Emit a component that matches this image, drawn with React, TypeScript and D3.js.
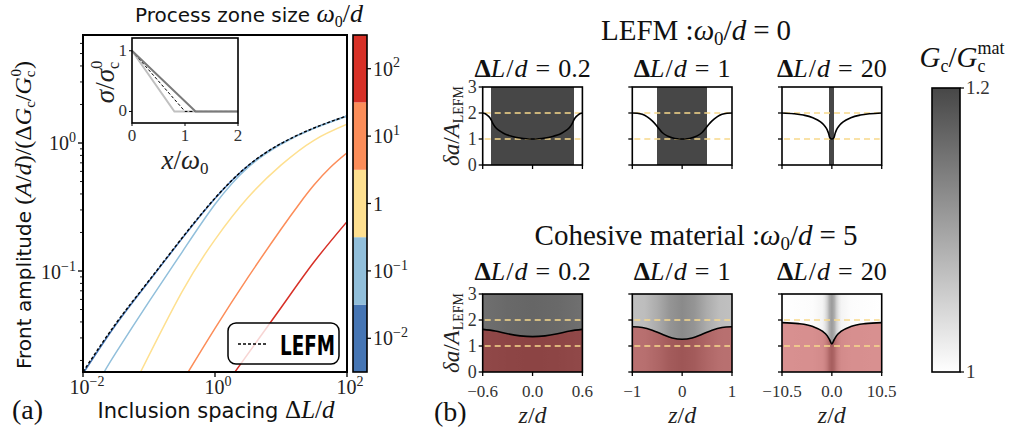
import React from "react";
import * as d3 from "d3";

// ---------- Panel (a) data ----------
const omegaLabels = ["10^-2", "10^-1", "1", "10^1", "10^2"];
const omegaColors = ["#4575b4", "#91bfdb", "#fee090", "#fc8d59", "#d73027"];

const lefmDL = [0.01, 0.0316, 0.1, 0.316, 1, 3.16, 10, 31.6, 100];
const lefmA = [0.0163, 0.039, 0.0843, 0.181, 0.371, 0.665, 0.99, 1.31, 1.63];

const w001DL = [0.01, 0.0316, 0.1, 0.316, 1, 3.16, 10, 31.6, 100];
const w001A = [0.0158, 0.0382, 0.0832, 0.179, 0.369, 0.663, 0.988, 1.308, 1.628];
const w01DL = [0.021, 0.0316, 0.1, 0.316, 1, 3.16, 10, 31.6, 100];
const w01A = [0.0163, 0.023, 0.0577, 0.14, 0.332, 0.644, 0.977, 1.3, 1.62];
const w1DL = [0.0748, 0.316, 1, 3.16, 10, 31.6, 100];
const w1A = [0.0163, 0.0687, 0.176, 0.375, 0.671, 1.05, 1.4];
const w10DL = [0.394, 1, 3.16, 10, 19.4, 31.6, 56.2, 100];
const w10A = [0.0163, 0.0356, 0.0891, 0.212, 0.34, 0.469, 0.646, 0.838];
const w100DL = [2.01, 10, 31.6, 100];
const w100A = [0.0163, 0.0516, 0.1175, 0.243];

const seriesDL = [w001DL, w01DL, w1DL, w10DL, w100DL];
const seriesA = [w001A, w01A, w1A, w10A, w100A];

// inset: cohesive laws
const insetLightX = [0, 0.8, 2];
const insetLightY = [1, 0, 0];
const insetDarkX = [0, 1.2, 2];
const insetDarkY = [1, 0, 0];
const insetDashX = [0, 1, 2];
const insetDashY = [1, 0, 0];

// ---------- Panel (b) data ----------
const panelDL = ["0.2", "1", "20"];
const panelZmax = [0.6, 1, 10.5];
const panelTickLabels = [["−0.6", "0.0", "0.6"], ["−1", "0", "1"], ["−10.5", "0.0", "10.5"]];

const lefmGcZ = [
  [-0.6, -0.5, -0.5, 0.5, 0.5, 0.6],
  [-1, -0.5, -0.5, 0.5, 0.5, 1],
  [-10.5, -0.5, -0.5, 0.5, 0.5, 10.5],
];
const lefmGc = [
  [1, 1, 1.2, 1.2, 1, 1],
  [1, 1, 1.2, 1.2, 1, 1],
  [1, 1, 1.2, 1.2, 1, 1],
];
const lefmFrontZ = [
  [-0.6, -0.575, -0.55, -0.525, -0.5, -0.475, -0.45, -0.4, -0.35, -0.3, -0.23, -0.15, -0.075, 0, 0.075, 0.15, 0.23, 0.3, 0.35, 0.4, 0.45, 0.475, 0.5, 0.525, 0.55, 0.575, 0.6],
  [-1, -0.9, -0.8, -0.7, -0.6, -0.5, -0.4, -0.3, -0.2, -0.1, 0, 0.1, 0.2, 0.3, 0.4, 0.5, 0.6, 0.7, 0.8, 0.9, 1],
  [-10.5, -8, -6, -4, -3, -2, -1.5, -1, -0.7, -0.5, -0.25, 0, 0.25, 0.5, 0.7, 1, 1.5, 2, 3, 4, 6, 8, 10.5],
];
const lefmFront = [
  [2.0, 1.98, 1.93, 1.86, 1.75, 1.58, 1.46, 1.32, 1.22, 1.15, 1.09, 1.04, 1.01, 1.0, 1.01, 1.04, 1.09, 1.15, 1.22, 1.32, 1.46, 1.58, 1.75, 1.86, 1.93, 1.98, 2.0],
  [2.0, 1.99, 1.95, 1.85, 1.7, 1.48, 1.25, 1.12, 1.05, 1.01, 1.0, 1.01, 1.05, 1.12, 1.25, 1.48, 1.7, 1.85, 1.95, 1.99, 2.0],
  [2.0, 1.97, 1.92, 1.82, 1.73, 1.6, 1.5, 1.36, 1.22, 1.08, 1.02, 1.0, 1.02, 1.08, 1.22, 1.36, 1.5, 1.6, 1.73, 1.82, 1.92, 1.97, 2.0],
];

const cohGcZ = [
  [-0.6, -0.3, 0, 0.3, 0.6],
  [-1, -0.75, -0.5, -0.25, 0, 0.25, 0.5, 0.75, 1],
  [-10.5, -4, -2, -1.5, -1, -0.5, 0, 0.5, 1, 1.5, 2, 4, 10.5],
];
const cohGc = [
  [1.155, 1.163, 1.166, 1.163, 1.155],
  [1.068, 1.072, 1.09, 1.115, 1.127, 1.115, 1.09, 1.072, 1.068],
  [1.0, 1.003, 1.012, 1.025, 1.05, 1.09, 1.11, 1.09, 1.05, 1.025, 1.012, 1.003, 1.0],
];
const cohFrontZ = [
  [-0.6, -0.45, -0.3, -0.15, 0, 0.15, 0.3, 0.45, 0.6],
  [-1, -0.8, -0.6, -0.4, -0.2, 0, 0.2, 0.4, 0.6, 0.8, 1],
  [-10.5, -7, -4, -2, -1, -0.5, 0, 0.5, 1, 2, 4, 7, 10.5],
];
const cohFront = [
  [1.64, 1.58, 1.47, 1.39, 1.36, 1.39, 1.47, 1.58, 1.64],
  [1.74, 1.71, 1.61, 1.45, 1.31, 1.26, 1.31, 1.45, 1.61, 1.71, 1.74],
  [1.9, 1.86, 1.75, 1.57, 1.4, 1.25, 1.08, 1.25, 1.4, 1.57, 1.75, 1.86, 1.9],
];

const refLevels = [1, 2];
const yTicksB = [0, 1, 2, 3];

const SERIF = "'Liberation Serif', 'DejaVu Serif', serif";
const SANS = "'DejaVu Sans', sans-serif";

const gcColor = d3.scaleLinear<string>().domain([1, 1.2]).range(["#ffffff", "#474747"]);

function Sup({ base, exp, x, y, anchor, size }: any) {
  return (
    <text x={x} y={y} textAnchor={anchor} fontFamily={SERIF} fontSize={size} fill="#222">
      {base}
      {exp !== null && (
        <tspan dy={-size * 0.42} fontSize={size * 0.7}>
          {exp}
        </tspan>
      )}
    </text>
  );
}

function labelParts(l: string): [string, string | null] {
  if (l.startsWith("10^")) return ["10", l.slice(3).replace("-", "−")];
  return [l, null];
}

function PanelB({ row, i, x0, y0, w, h }: any) {
  const zmax = panelZmax[i];
  const xs = d3.scaleLinear().domain([-zmax, zmax]).range([x0, x0 + w]);
  const ys = d3.scaleLinear().domain([0, 3]).range([y0 + h, y0]);
  const gz = row === 0 ? lefmGcZ[i] : cohGcZ[i];
  const gv = row === 0 ? lefmGc[i] : cohGc[i];
  const fz = row === 0 ? lefmFrontZ[i] : cohFrontZ[i];
  const fv = row === 0 ? lefmFront[i] : cohFront[i];
  const pts = fz.map((z, k) => [z, fv[k]] as [number, number]);
  const line = d3.line<[number, number]>().x((d) => xs(d[0])).y((d) => ys(d[1])).curve(d3.curveMonotoneX);
  const area = d3
    .area<[number, number]>()
    .x((d) => xs(d[0]))
    .y0(ys(0))
    .y1((d) => ys(d[1]))
    .curve(d3.curveMonotoneX);
  const gid = `g${row}${i}`;
  const cid = `c${row}${i}`;
  return (
    <g>
      <defs>
        <linearGradient id={gid} gradientUnits="userSpaceOnUse" x1={x0} x2={x0 + w} y1={0} y2={0}>
          {gz.map((z, k) => (
            <stop key={k} offset={(z + zmax) / (2 * zmax)} stopColor={gcColor(gv[k])} />
          ))}
        </linearGradient>
        <clipPath id={cid}>
          <rect x={x0} y={y0} width={w} height={h} />
        </clipPath>
      </defs>
      <rect x={x0} y={y0} width={w} height={h} fill={`url(#${gid})`} />
      <g clipPath={`url(#${cid})`}>
        {row === 1 && <path d={area(pts) || ""} fill="#b22222" fillOpacity={0.5} />}
        {refLevels.map((v) => (
          <line key={v} x1={x0 + 2} x2={x0 + w - 2} y1={ys(v)} y2={ys(v)} stroke="#f7d98c" strokeWidth={1.5} strokeDasharray="6,4" />
        ))}
        <path d={line(pts) || ""} fill="none" stroke="#000" strokeWidth={1.6} />
      </g>
      <rect x={x0} y={y0} width={w} height={h} fill="none" stroke="#000" strokeWidth={1.6} />
      {yTicksB.map((t) => (
        <line key={t} x1={x0 - 4} x2={x0} y1={ys(t)} y2={ys(t)} stroke="#000" strokeWidth={1.3} />
      ))}
      {i === 0 &&
        yTicksB.map((t) => (
          <text key={t} x={x0 - 6} y={ys(t) + 5.5} textAnchor="end" fontFamily={SERIF} fontSize={18} fill="#333">
            {t}
          </text>
        ))}
      {[-zmax, 0, zmax].map((t, k) => (
        <g key={k}>
          <line x1={xs(t)} x2={xs(t)} y1={y0 + h} y2={y0 + h + 4} stroke="#000" strokeWidth={1.3} />
          {row === 1 && (
            <text x={xs(t)} y={396.5} textAnchor="middle" fontFamily={SERIF} fontSize={17} fill="#333">
              {panelTickLabels[i][k]}
            </text>
          )}
        </g>
      ))}
      <text x={x0 + w / 2} y={row === 0 ? 77 : 280} textAnchor="middle" fontFamily={SERIF} fontSize={26} fill="#111">
        <tspan fontWeight="bold">Δ</tspan>
        <tspan fontStyle="italic">L</tspan>
        <tspan dx={1}>/</tspan>
        <tspan fontStyle="italic" dx={1}>d</tspan>
        <tspan dx={8}>=</tspan>
        <tspan dx={8}>{panelDL[i]}</tspan>
      </text>
      {row === 1 && (
        <text x={x0 + w / 2} y={423} textAnchor="middle" fontFamily={SERIF} fontSize={24} fontStyle="italic" fill="#222">
          z<tspan fontStyle="normal">/</tspan>d
        </text>
      )}
    </g>
  );
}

export default function App() {
  const xA = d3.scaleLog().domain([0.01, 100]).range([83, 347]);
  const yA = d3.scaleLog().domain([0.01625, 6.98]).range([372, 35]);
  const lineA = d3
    .line<[number, number]>()
    .x((d) => xA(d[0]))
    .y((d) => yA(d[1]))
    .curve(d3.curveNatural);

  const minorY: number[] = [];
  [0.01, 0.1, 1].forEach((dec) => {
    for (let m = 2; m <= 9; m++) {
      const v = m * dec;
      if (v > 0.01625 && v < 6.98) minorY.push(v);
    }
  });

  // inset
  const xi = d3.scaleLinear().domain([0, 2]).range([132, 238]);
  const yi = d3.scaleLinear().domain([-0.19, 1.21]).range([123, 38]);
  const lineI = d3.line<[number, number]>().x((d) => xi(d[0])).y((d) => yi(d[1]));
  const zip = (a: number[], b: number[]) => a.map((v, k) => [v, b[k]] as [number, number]);

  // colorbar (a)
  const cbY = d3.scaleBand<number>().domain([4, 3, 2, 1, 0]).range([35, 372]).paddingInner(0);

  // (b) layout
  const bx = [482.7, 632.3, 782];
  const bw = 99.7;
  const by = [87, 294];
  const bh = 78;

  const gcBar = d3.scaleLinear().domain([1, 1.2]).range([372, 88]);

  return (
    <svg width={1019} height={434} style={{ position: "absolute", left: 0, top: 0, background: "#fff" }}>
      {/* ================= Panel (a) ================= */}
      <defs>
        <clipPath id="clipA">
          <rect x={83} y={35} width={264} height={337} />
        </clipPath>
      </defs>
      <g clipPath="url(#clipA)">
        {seriesDL.map((dl, k) => (
          <path key={k} d={lineA(zip(dl, seriesA[k])) || ""} fill="none" stroke={omegaColors[k]} strokeWidth={1.5} />
        ))}
        <path d={lineA(zip(lefmDL, lefmA)) || ""} fill="none" stroke="#000" strokeWidth={1.4} strokeDasharray="3,2" />
      </g>
      {/* legend */}
      <rect x={228} y={323} width={111} height={41} rx={8} fill="#fff" fillOpacity={0.8} stroke="#000" strokeWidth={1.5} />
      <line x1={238} x2={268} y1={344} y2={344} stroke="#000" strokeWidth={1.5} strokeDasharray="3,2" />
      <text x={280} y={355} fontFamily={SANS} fontWeight="bold" fontStretch="condensed" fontSize={27} textLength={55} lengthAdjust="spacingAndGlyphs" fill="#000">
        LEFM
      </text>
      {/* inset */}
      <rect x={132} y={38} width={106} height={85} fill="#fff" />
      <path d={lineI(zip(insetLightX, insetLightY)) || ""} fill="none" stroke="#c0c0c0" strokeWidth={2} />
      <path d={lineI(zip(insetDashX, insetDashY)) || ""} fill="none" stroke="#000" strokeWidth={1} strokeDasharray="3,2" />
      <path d={lineI(zip(insetDarkX, insetDarkY)) || ""} fill="none" stroke="#7a7a7a" strokeWidth={2} />
      <rect x={132} y={38} width={106} height={85} fill="none" stroke="#000" strokeWidth={1.6} />
      {[0, 1, 2].map((t) => (
        <g key={t}>
          <line x1={xi(t)} x2={xi(t)} y1={123} y2={126} stroke="#000" />
          <text x={xi(t)} y={141} textAnchor="middle" fontFamily={SERIF} fontSize={17} fill="#333">
            {t}
          </text>
        </g>
      ))}
      {[0, 1].map((t) => (
        <g key={t}>
          <line x1={129} x2={132} y1={yi(t)} y2={yi(t)} stroke="#000" />
          <text x={127} y={yi(t) + 5} textAnchor="end" fontFamily={SERIF} fontSize={17} fill="#333">
            {t}
          </text>
        </g>
      ))}
      <text x={185} y={169} textAnchor="middle" fontFamily={SERIF} fontSize={27} fontStyle="italic" fill="#222">
        x<tspan fontStyle="normal">/</tspan>ω<tspan dy={5} fontSize={17} fontStyle="normal">0</tspan>
      </text>
      <text transform="translate(114,82) rotate(-90)" textAnchor="middle" fontFamily={SERIF} fontSize={27} fontStyle="italic" fill="#222">
        σ<tspan fontStyle="normal">/</tspan>σ
        <tspan dy={5} fontSize={16} fontStyle="normal">c</tspan>
        <tspan dx={-7} dy={-17} fontSize={16} fontStyle="normal">0</tspan>
      </text>

      {/* axes frame */}
      <rect x={83} y={35} width={264} height={337} fill="none" stroke="#000" strokeWidth={2} />
      {[0.1, 1].map((t) => (
        <line key={t} x1={78} x2={83} y1={yA(t)} y2={yA(t)} stroke="#000" strokeWidth={1.3} />
      ))}
      {minorY.map((t, k) => (
        <line key={k} x1={80} x2={83} y1={yA(t)} y2={yA(t)} stroke="#000" strokeWidth={0.9} />
      ))}
      {[0.01, 1, 100].map((t) => (
        <line key={t} x1={xA(t)} x2={xA(t)} y1={372} y2={377} stroke="#000" strokeWidth={1.3} />
      ))}
      <Sup base="10" exp="0" x={76} y={150} anchor="end" size={20} />
      <Sup base="10" exp="−1" x={76} y={279} anchor="end" size={20} />
      <Sup base="10" exp="−2" x={xA(0.01) + 4} y={394} anchor="middle" size={20} />
      <Sup base="10" exp="0" x={xA(1) + 3} y={394} anchor="middle" size={20} />
      <Sup base="10" exp="2" x={xA(100) + 3} y={394} anchor="middle" size={20} />

      {/* colorbar (a) */}
      {omegaColors.map((c, k) => (
        <rect key={k} x={353} y={cbY(k)} width={14} height={cbY.bandwidth()} fill={c} />
      ))}
      <rect x={353} y={35} width={14} height={337} fill="none" stroke="#000" strokeWidth={1.6} />
      {omegaLabels.map((l, k) => {
        const [b, e] = labelParts(l);
        const yc = (cbY(k) as number) + cbY.bandwidth() / 2;
        return (
          <g key={k}>
            <line x1={367} x2={371} y1={yc} y2={yc} stroke="#000" strokeWidth={1.2} />
            <Sup base={b} exp={e} x={373} y={yc + 7} anchor="start" size={20} />
          </g>
        );
      })}

      {/* labels (a) */}
      <text x={135} y={22} fontFamily={SANS} fontSize={20} fill="#111">
        Process zone size{" "}
        <tspan fontFamily={SERIF} fontStyle="italic" fontSize={26}>ω</tspan>
        <tspan fontFamily={SERIF} fontSize={16} dy={5}>0</tspan>
        <tspan fontFamily={SERIF} fontSize={26} dy={-5}>/</tspan>
        <tspan fontFamily={SERIF} fontStyle="italic" fontSize={26}>d</tspan>
      </text>
      <text transform="translate(31,215) rotate(-90)" textAnchor="middle" fontFamily={SANS} fontSize={20} fill="#111">
        Front amplitude{" "}
        <tspan fontFamily={SERIF} fontSize={24}>(</tspan>
        <tspan fontFamily={SERIF} fontSize={24} fontStyle="italic">A</tspan>
        <tspan fontFamily={SERIF} fontSize={24}>/</tspan>
        <tspan fontFamily={SERIF} fontSize={24} fontStyle="italic">d</tspan>
        <tspan fontFamily={SERIF} fontSize={24}>)/(Δ</tspan>
        <tspan fontFamily={SERIF} fontSize={24} fontStyle="italic">G</tspan>
        <tspan fontFamily={SERIF} fontSize={15} dy={4}>c</tspan>
        <tspan fontFamily={SERIF} fontSize={24} dy={-4}>/</tspan>
        <tspan fontFamily={SERIF} fontSize={24} fontStyle="italic">G</tspan>
        <tspan fontFamily={SERIF} fontSize={15} dy={4}>c</tspan>
        <tspan fontFamily={SERIF} fontSize={15} dx={-6} dy={-14}>0</tspan>
        <tspan fontFamily={SERIF} fontSize={24} dy={10}>)</tspan>
      </text>
      <text x={216} y={418} textAnchor="middle" fontFamily={SANS} fontSize={21} fill="#111">
        Inclusion spacing{" "}
        <tspan fontFamily={SERIF} fontSize={25}>Δ</tspan>
        <tspan fontFamily={SERIF} fontSize={25} fontStyle="italic">L</tspan>
        <tspan fontFamily={SERIF} fontSize={25}>/</tspan>
        <tspan fontFamily={SERIF} fontSize={25} fontStyle="italic">d</tspan>
      </text>
      <text x={12} y={419} fontFamily={SERIF} fontSize={28} fill="#111">
        (a)
      </text>

      {/* ================= Panel (b) ================= */}
      <text x={696} y={40} textAnchor="middle" fontFamily={SERIF} fontSize={29} fill="#111">
        LEFM :<tspan fontStyle="italic">ω</tspan>
        <tspan fontSize={19} dy={5}>0</tspan>
        <tspan dy={-5}>/</tspan>
        <tspan fontStyle="italic">d</tspan>
        <tspan dx={7}>=</tspan>
        <tspan dx={7}>0</tspan>
      </text>
      <text x={696} y={245} textAnchor="middle" fontFamily={SERIF} fontSize={29} fill="#111">
        Cohesive material :<tspan fontStyle="italic">ω</tspan>
        <tspan fontSize={19} dy={5}>0</tspan>
        <tspan dy={-5}>/</tspan>
        <tspan fontStyle="italic">d</tspan>
        <tspan dx={7}>=</tspan>
        <tspan dx={7}>5</tspan>
      </text>
      {[0, 1].map((row) =>
        [0, 1, 2].map((i) => <PanelB key={`${row}${i}`} row={row} i={i} x0={bx[i]} y0={by[row]} w={bw} h={bh} />)
      )}
      {by.map((y, k) => (
        <text key={k} transform={`translate(459,${y + bh / 2}) rotate(-90)`} textAnchor="middle" fontFamily={SERIF} fontSize={23} fill="#222">
          <tspan fontStyle="italic">δa</tspan>/<tspan fontStyle="italic">A</tspan>
          <tspan fontSize={14} dy={4}>LEFM</tspan>
        </text>
      ))}
      <text x={434} y={421} fontFamily={SERIF} fontSize={28} fill="#111">
        (b)
      </text>

      {/* Gc colorbar */}
      <defs>
        <linearGradient id="gcbar" x1="0" x2="0" y1="0" y2="1">
          <stop offset="0" stopColor={gcColor(1.2)} />
          <stop offset="1" stopColor={gcColor(1)} />
        </linearGradient>
      </defs>
      <rect x={932} y={88} width={28} height={284} fill="url(#gcbar)" stroke="#000" strokeWidth={1.6} />
      {[1.2, 1].map((t) => (
        <g key={t}>
          <line x1={960} x2={964} y1={gcBar(t)} y2={gcBar(t)} stroke="#000" strokeWidth={1.2} />
          <text x={966} y={gcBar(t) + 6} fontFamily={SERIF} fontSize={19} fill="#333">
            {t === 1 ? "1" : "1.2"}
          </text>
        </g>
      ))}
      <text x={962} y={67} textAnchor="middle" fontFamily={SERIF} fontSize={29} fill="#111">
        <tspan fontStyle="italic">G</tspan>
        <tspan fontSize={18} dy={5}>c</tspan>
        <tspan dy={-5}>/</tspan>
        <tspan fontStyle="italic">G</tspan>
        <tspan fontSize={18} dy={5}>c</tspan>
        <tspan fontSize={18} dx={-8} dy={-18}>mat</tspan>
      </text>
    </svg>
  );
}
